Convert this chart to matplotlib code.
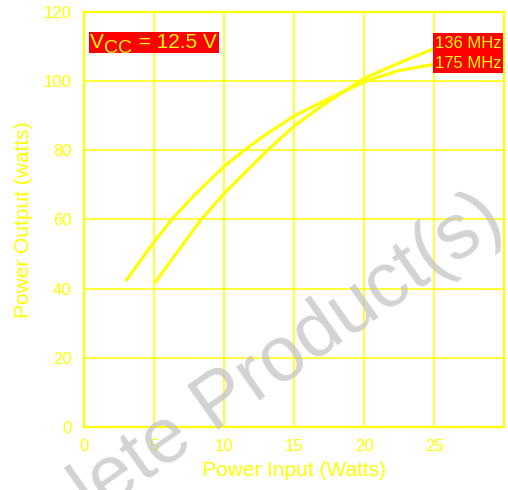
import matplotlib
matplotlib.use('Agg')
import matplotlib.pyplot as plt
from matplotlib.patches import Rectangle

plt.rcParams['font.family'] = ['Liberation Sans', 'DejaVu Sans']

YEL = '#ffff00'

# 175 MHz curve (starts at 3 W)
pin_175 = [2.98, 5.0, 6.31, 7.86, 10.0, 11.43, 13.1, 15.0, 16.9, 18.33, 20.0, 22.4, 25.05]
pout_175 = [42.2, 53.5, 60.2, 67.0, 75.3, 80.0, 84.9, 89.9, 93.8, 96.6, 99.8, 103.0, 104.9]
# 136 MHz curve (starts at 5 W)
pin_136 = [5.07, 6.43, 8.33, 10.0, 11.43, 13.1, 15.0, 16.9, 18.33, 20.0, 22.4, 25.05]
pout_136 = [41.7, 49.3, 59.8, 67.5, 73.3, 80.0, 87.0, 92.6, 96.4, 100.8, 105.1, 109.5]

xticks = [0, 5, 10, 15, 20, 25]
yticks = [0, 20, 40, 60, 80, 100, 120]

fig = plt.figure(figsize=(5.08, 4.90), dpi=100)
ax = fig.add_axes([0.1654, 0.1286, 0.8268, 0.8469])
ax.set_xlim(0, 30)
ax.set_ylim(0, 120)

# grid
for gx in xticks[1:]:
    ax.axvline(gx, color=YEL, lw=1.1, zorder=1)
for gy in yticks[1:-1]:
    ax.axhline(gy, color=YEL, lw=1.1, zorder=1)

ax.plot(pin_175, pout_175, color=YEL, lw=2.3, zorder=3, solid_capstyle='butt',
        solid_joinstyle='round')
ax.plot(pin_136, pout_136, color=YEL, lw=2.3, zorder=3, solid_capstyle='butt',
        solid_joinstyle='round')

for s in ax.spines.values():
    s.set_color(YEL)
    s.set_linewidth(1.6)

ax.set_xticks(xticks)
ax.set_yticks(yticks)
ax.tick_params(length=0, labelsize=12, labelcolor=YEL)
ax.tick_params(axis='x', pad=9)
ax.tick_params(axis='y', pad=9)
ax.set_xlabel('Power Input (Watts)', fontsize=15, color=YEL, labelpad=5)
ax.set_ylabel('Power Output (watts)', fontsize=15, color=YEL, labelpad=8)

# Vcc box
ax.add_patch(Rectangle((0.36, 108.1), 9.28, 6.1, facecolor='red', edgecolor='none', zorder=4))
ax.text(0.43, 109.5, 'V', fontsize=15, color=YEL, va='baseline', ha='left', zorder=5)
ax.text(1.45, 108.2, 'CC', fontsize=14, color=YEL, va='baseline', ha='left', zorder=5)
ax.text(3.5, 109.5, ' = 12.5 V', fontsize=15, color=YEL, va='baseline', ha='left', zorder=5)

# frequency labels box
ax.add_patch(Rectangle((24.93, 102.4), 5.0, 11.6, facecolor='red', edgecolor='none',
                       zorder=4, clip_on=False))
ax.text(25.1, 109.6, '136 MHz', fontsize=12, color=YEL, va='baseline', ha='left', zorder=5)
ax.text(25.1, 103.8, '175 MHz', fontsize=12, color=YEL, va='baseline', ha='left', zorder=5)

# watermark
fig.text(-0.1157, -0.273, 'Obsolete Product(s)', fontsize=56, color='#c0c0c0', alpha=0.7,
         rotation=35, rotation_mode='anchor', ha='left', va='baseline', zorder=10)

fig.savefig('out.png', dpi=100)
